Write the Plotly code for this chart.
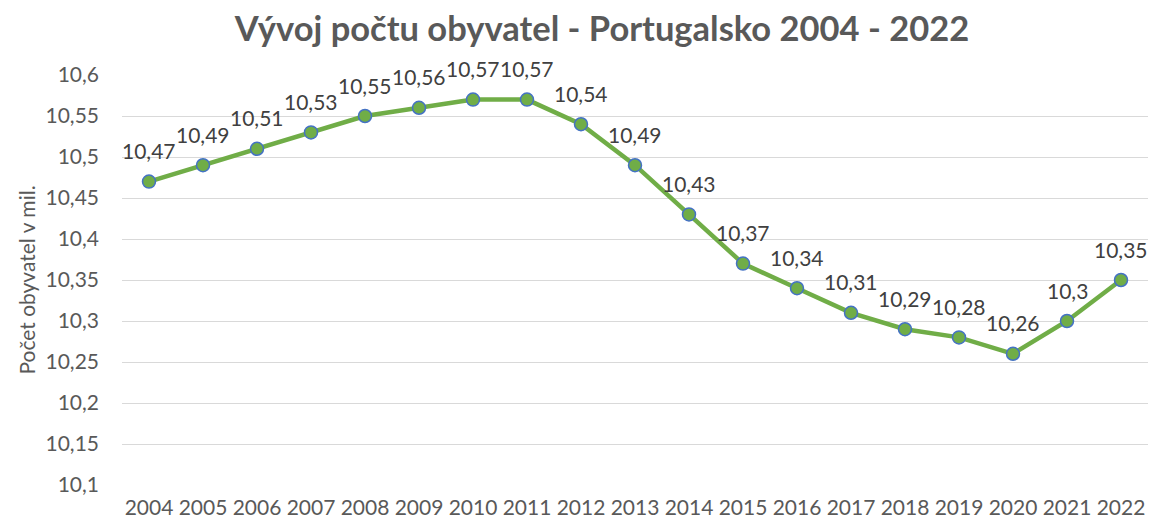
import plotly.graph_objects as go

years = [str(y) for y in range(2004, 2023)]
values = [10.47, 10.49, 10.51, 10.53, 10.55, 10.56, 10.57, 10.57, 10.54, 10.49,
          10.43, 10.37, 10.34, 10.31, 10.29, 10.28, 10.26, 10.30, 10.35]
y_ticks = [10.1, 10.15, 10.2, 10.25, 10.3, 10.35, 10.4, 10.45, 10.5, 10.55, 10.6]

def fmt(v):
    s = ("%.2f" % v).rstrip("0").rstrip(".")
    return s.replace(".", ",")

GREY = "#595959"
FONT = "Lato"
FS = 21

fig = go.Figure()
fig.add_trace(go.Scatter(
    x=years, y=values, mode="lines+markers",
    line=dict(color="#70AD47", width=4.5),
    marker=dict(size=13, color="#70AD47", line=dict(color="#4472C4", width=1.5)),
    hoverinfo="x+y", showlegend=False,
))

# annotations on category axis referenced by category index
for i, v in enumerate(values):
    fig.add_annotation(x=i, y=v, xref="x", yref="y", text=fmt(v), showarrow=False,
                       yanchor="middle", yshift=31,
                       font=dict(family=FONT, size=FS, color="#404040"))

# page body has an 8px default margin; size figure to fill the rest of the window
fig.update_layout(
    width=1150, height=517,
    paper_bgcolor="white", plot_bgcolor="white",
    margin=dict(l=114, r=10, t=67, b=40, autoexpand=False),
    title=dict(text="<b>Vývoj počtu obyvatel - Portugalsko 2004 - 2022</b>",
               x=0.5165, xanchor="center", y=0.96, yanchor="middle",
               font=dict(family=FONT, size=34.5, color=GREY)),
    font=dict(family=FONT, size=FS, color=GREY),
)
fig.update_xaxes(type="category", categoryorder="array", categoryarray=years,
                 range=[-0.5, len(years) - 0.5], autorange=False, automargin=False,
                 showgrid=False, showline=False, ticks="", ticklabelstandoff=8,
                 tickfont=dict(family=FONT, size=FS, color=GREY))
fig.update_yaxes(range=[10.1, 10.6], autorange=False, automargin=False,
                 tickvals=y_ticks, ticktext=[fmt(v) for v in y_ticks],
                 showgrid=True, gridcolor="#D9D9D9", gridwidth=1,
                 zeroline=False, showline=False, ticks="", ticklabelstandoff=22,
                 tickfont=dict(family=FONT, size=FS, color=GREY),
                 title=dict(text="Počet obyvatel v mil.", standoff=4,
                            font=dict(family=FONT, size=FS, color=GREY)))

fig.write_html("out.html")
